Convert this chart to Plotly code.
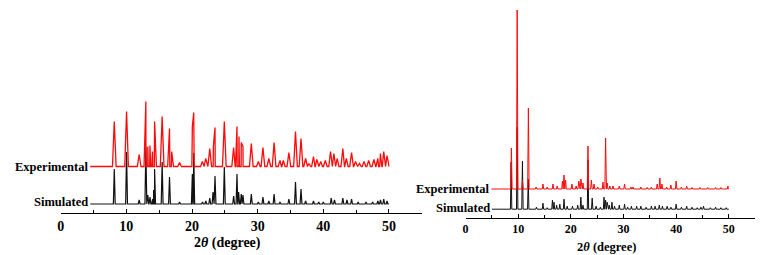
import plotly.graph_objects as go

# ---------------- data ----------------
# Left panel: Experimental (red) peaks
left_exp_pos = [8.16, 10.03, 11.95, 12.97, 13.27, 13.6, 13.98, 14.3, 15.45, 16.57, 16.9, 18.1,
                20.05, 20.26, 21.58, 22.08, 22.7, 23.25, 23.5, 24.92, 26.34, 26.85, 27.15, 27.5,
                27.76, 29.03, 30.1, 30.8, 31.7, 32.5, 33.4, 33.9, 34.75, 35.76, 36.6, 37.3, 37.8,
                38.5, 39.0, 39.6, 40.3, 41.1, 41.6, 42.1, 42.97, 43.5, 44.3, 44.9, 45.5, 46.2,
                46.9, 47.7, 48.3, 48.7, 49.2, 49.7]
left_exp_int = [45, 55, 12, 65, 20, 21, 15, 45, 50, 38, 15, 4,
                40, 54, 5, 8, 18, 20, 39, 45, 19, 40, 30, 24,
                20, 23, 5, 19, 8, 24, 6, 6, 14, 35, 28, 8, 3,
                10, 7, 5, 6, 15, 13, 8, 18, 8, 14, 5, 3, 5,
                6, 7, 8, 13, 15, 11]
# Left panel: Simulated (black) peaks
left_sim_pos = [8.16, 10.03, 11.95, 12.97, 13.27, 13.6, 14.0, 14.15, 14.3, 15.45, 16.57, 18.1,
                20.05, 20.26, 21.6, 22.1, 22.7, 23.2, 23.5, 24.92, 26.34, 26.85, 27.1, 27.5,
                27.76, 29.03, 30.1, 30.8, 31.7, 32.5, 33.4, 34.75, 35.76, 36.6, 37.3, 38.5,
                39.3, 40.0, 41.2, 41.7, 42.97, 43.6, 44.3, 45.3, 46.5, 47.5, 48.3, 48.7, 49.2, 49.7]
left_sim_int = [35, 52, 4, 57, 9, 7, 5, 14, 35, 42, 27, 2,
                30, 51, 2, 3, 6, 12, 28, 37, 8, 30, 12, 10,
                9, 10, 2, 7, 3, 10, 2, 5, 22, 15, 3, 3,
                2, 2, 6, 4, 6, 4, 5, 2, 2, 2, 3, 4, 5, 3]

# Right panel: Experimental (red) peaks
right_exp_pos = [8.7, 9.8, 10.8, 11.93, 13.4, 14.7, 15.5, 16.6, 17.4, 18.4, 18.7, 19.0, 20.2,
                 21.0, 21.5, 21.9, 22.3, 23.25, 23.9, 24.4, 25.1, 26.1, 26.6, 26.9, 27.4, 28.0,
                 29.2, 30.2, 31.4, 31.8, 33.3, 34.5, 35.3, 36.4, 36.9, 37.3, 38.2, 39.0, 40.0,
                 41.0, 42.0, 43.0, 44.5, 46.0, 47.5, 48.5, 49.85]
right_exp_int = [41, 179, 9, 81, 2, 5, 2, 5, 3, 8, 14, 9, 5,
                 3, 8, 10, 6, 43, 9, 5, 2, 7, 51, 6, 3, 3,
                 3, 5, 2, 2, 2, 1.5, 2, 5, 11, 5, 2, 4, 8,
                 2, 3, 1.5, 1.5, 1.5, 1.5, 1.5, 3]
# Right panel: Simulated (black) peaks
right_sim_pos = [8.65, 9.8, 10.8, 11.9, 13.45, 14.7, 15.5, 16.5, 16.8, 17.3, 17.9, 18.7, 19.3,
                 20.3, 21.3, 21.9, 22.3, 23.25, 24.05, 24.8, 25.6, 26.3, 26.6, 26.9, 27.3, 27.8,
                 28.3, 29.2, 30.2, 30.8, 31.5, 32.5, 33.3, 34.3, 35.3, 36.0, 36.8, 37.4, 38.3,
                 39.0, 40.0, 41.0, 42.0, 43.0, 44.0, 44.7, 45.2, 46.5, 47.5, 48.5, 49.5]
right_sim_int = [47, 82, 48, 30, 2, 6, 1.5, 9, 7, 4, 5, 10, 3,
                 3, 4, 12, 4, 49, 11, 3, 2, 12, 9, 7, 4, 7,
                 3, 4, 5, 2, 3, 3, 3, 2, 3, 3, 4, 3, 3,
                 2, 5, 2, 3, 2, 1.5, 2, 3, 1.5, 2, 1.5, 1.5]

tick_vals = [0, 10, 20, 30, 40, 50]
tick_text = ["0", "10", "20", "30", "40", "50"]
curve_labels = ["Experimental", "Simulated"]
x_title = "2<i>θ</i> (degree)"

# ---------------- styling ----------------
SERIF = "Liberation Serif"
RED = "#ff0a0a"
BLACK = "#111111"


def pattern(start, end, base, pos, ints, w):
    pts = [(start, base), (end, base)]
    for p, h in zip(pos, ints):
        pts += [(p - w, base), (p, base + h), (p + w, base)]
    pts.sort(key=lambda t: t[0])
    return [t[0] for t in pts], [t[1] for t in pts]


fig = go.Figure()

# left panel (baselines in plot units = pixels above axis)
x, y = pattern(4.5, 50, 9, left_sim_pos, left_sim_int, 0.14)
fig.add_trace(go.Scatter(x=x, y=y, mode="lines", line=dict(color=BLACK, width=1.2),
                         xaxis="x", yaxis="y", hoverinfo="skip"))
x, y = pattern(4.5, 50, 46.5, left_exp_pos, left_exp_int, 0.28)
fig.add_trace(go.Scatter(x=x, y=y, mode="lines", line=dict(color=RED, width=1.3),
                         xaxis="x", yaxis="y", hoverinfo="skip"))

# right panel
x, y = pattern(5.0, 50, 8.8, right_sim_pos, right_sim_int, 0.13)
fig.add_trace(go.Scatter(x=x, y=y, mode="lines", line=dict(color=BLACK, width=1.0),
                         xaxis="x2", yaxis="y2", hoverinfo="skip"))
x, y = pattern(4.9, 49.9, 29, right_exp_pos, right_exp_int, 0.14)
fig.add_trace(go.Scatter(x=x, y=y, mode="lines", line=dict(color=RED, width=1.0),
                         xaxis="x2", yaxis="y2", hoverinfo="skip"))

W, H = 772, 255


def xaxis_style(domain, anchor, fsize, lw):
    return dict(domain=domain, anchor=anchor, range=[0, 55], showline=True, linecolor="black",
                linewidth=lw, ticks="inside", ticklen=4, tickwidth=lw, tickcolor="black",
                tickvals=tick_vals, ticktext=tick_text, showgrid=False, zeroline=False,
                minor=dict(ticks="inside", ticklen=2.5, tickwidth=1, tickcolor="black",
                           tickvals=[5, 15, 25, 35, 45]),
                tickfont=dict(family=SERIF, size=fsize, color="black", weight="bold"),
                fixedrange=True)


fig.update_layout(
    width=W, height=H, margin=dict(l=0, r=0, t=0, b=0),
    paper_bgcolor="white", plot_bgcolor="rgba(0,0,0,0)", showlegend=False,
    xaxis=xaxis_style([57 / W, 420 / W], "y", 14, 1.3),
    yaxis=dict(domain=[42 / H, 1], range=[0, 213], visible=False, fixedrange=True),
    xaxis2=xaxis_style([464 / W, 755 / W], "y2", 12, 1.1),
    yaxis2=dict(domain=[37 / H, 1], range=[0, 218], visible=False, fixedrange=True),
)

lab_font_l = dict(family=SERIF, size=12.5, color="black", weight="bold")
ann = [
    dict(x=4.5, y=46.5, xref="x", yref="y", text=curve_labels[0], showarrow=False,
         xanchor="right", yanchor="middle", font=lab_font_l),
    dict(x=4.5, y=11, xref="x", yref="y", text=curve_labels[1], showarrow=False,
         xanchor="right", yanchor="middle", font=lab_font_l),
    dict(x=4.9, y=29, xref="x2", yref="y2", text=curve_labels[0], showarrow=False,
         xanchor="right", yanchor="middle", font=lab_font_l),
    dict(x=5.0, y=10.5, xref="x2", yref="y2", text=curve_labels[1], showarrow=False,
         xanchor="right", yanchor="middle", font=lab_font_l),
    dict(x=225 / W, y=(H - 243) / H, xref="paper", yref="paper", text=x_title, showarrow=False,
         xanchor="center", yanchor="middle",
         font=dict(family=SERIF, size=14, color="black", weight="bold")),
    dict(x=606 / W, y=(H - 247) / H, xref="paper", yref="paper", text=x_title, showarrow=False,
         xanchor="center", yanchor="middle",
         font=dict(family=SERIF, size=12.5, color="black", weight="bold")),
]
fig.update_layout(annotations=ann)

fig.write_html("out.html", config={"displayModeBar": False},
               post_script="document.body.style.margin='0';document.body.style.padding='0';"
                           "document.body.style.overflow='hidden';")
